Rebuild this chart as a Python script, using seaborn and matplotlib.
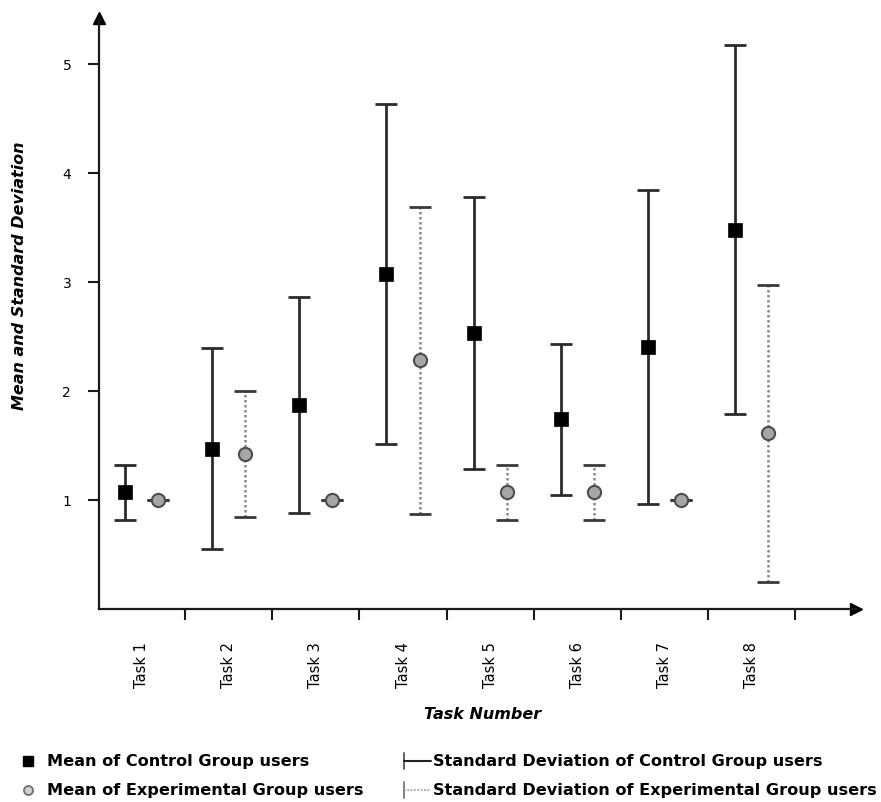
import numpy as np
import pandas as pd
import matplotlib
matplotlib.use("Agg")
import matplotlib.pyplot as plt
from matplotlib.lines import Line2D
import seaborn as sns

# ---- data -------------------------------------------------------------
tasks = ["Task 1", "Task 2", "Task 3", "Task 4", "Task 5", "Task 6", "Task 7", "Task 8"]
control_mean = [1.07, 1.47, 1.87, 3.07, 2.53, 1.74, 2.40, 3.48]
control_sd = [0.25, 0.92, 0.99, 1.56, 1.25, 0.69, 1.44, 1.69]
experimental_mean = [1.00, 1.42, 1.00, 2.28, 1.07, 1.07, 1.00, 1.61]
experimental_sd = [0.00, 0.58, 0.00, 1.41, 0.25, 0.25, 0.00, 1.36]
y_ticks = [1, 2, 3, 4, 5]

legend_labels = [
    "Mean of Control Group users",
    "Mean of Experimental Group users",
    "Standard Deviation of Control Group users",
    "Standard Deviation of Experimental Group users",
]

# ---- layout -----------------------------------------------------------
W, H = 881, 803
sns.set_style("white")
plt.rcParams["font.family"] = ["DejaVu Sans"]
plt.rcParams["text.color"] = "black"
plt.rcParams["axes.labelcolor"] = "black"
plt.rcParams["xtick.color"] = "black"
plt.rcParams["ytick.color"] = "black"

fig = plt.figure(figsize=(W / 100, H / 100), dpi=100)
ax = fig.add_axes([99 / W, 1 - 610 / H, (856 - 99) / W, (610 - 19) / H])

pos = np.arange(len(tasks))
offset = 0.19
df = pd.DataFrame({
    "x": np.concatenate([pos - offset, pos + offset]),
    "mean": control_mean + experimental_mean,
    "sd": control_sd + experimental_sd,
    "group": ["Control"] * len(tasks) + ["Experimental"] * len(tasks),
})
ctrl = df[df.group == "Control"]
expt = df[df.group == "Experimental"]

# standard deviation bars
eb_c = ax.errorbar(ctrl["x"], ctrl["mean"], yerr=ctrl["sd"], fmt="none",
                   ecolor="#2b2b2b", elinewidth=2.0, capsize=8, capthick=2.0,
                   zorder=2)
eb_e = ax.errorbar(expt["x"], expt["mean"], yerr=expt["sd"], fmt="none",
                   ecolor="#3a3a3a", elinewidth=1.8, capsize=8, capthick=2.0,
                   zorder=2)
eb_e[2][0].set_linestyle((0, (1, 1)))
eb_e[2][0].set_color("#8a8a8a")

# means
sns.scatterplot(data=ctrl, x="x", y="mean", marker="s", s=90, color="black",
                edgecolor="black", linewidth=0.5, ax=ax, zorder=3, legend=False)
sns.scatterplot(data=expt, x="x", y="mean", marker="o", s=90, color="#a6a6a6",
                edgecolor="#4d4d4d", linewidth=1.5, ax=ax, zorder=3, legend=False)

# ---- axes -------------------------------------------------------------
ax.set_xlim(-0.49, 8.2)
ax.set_ylim(0, 5.42)
for side in ("top", "right"):
    ax.spines[side].set_visible(False)
for side in ("left", "bottom"):
    ax.spines[side].set_color("#1a1a1a")
    ax.spines[side].set_linewidth(1.6)

# arrow heads at the axis ends
ax.plot(1, 0, ">", color="black", markersize=9, transform=ax.get_yaxis_transform(), clip_on=False)
ax.plot(-0.49, 1, "^", color="black", markersize=9, transform=ax.get_xaxis_transform(), clip_on=False)

ax.set_yticks(y_ticks)
ax.set_yticklabels([str(v) for v in y_ticks], fontsize=10)
ax.tick_params(axis="y", direction="out", length=8, width=1.5, color="#1a1a1a",
               pad=12, left=True)

ax.set_xticks(pos)
ax.set_xticklabels(tasks, rotation=90, fontsize=10.5, va="top")
ax.set_xticks(pos + 0.5, minor=True)
ax.tick_params(axis="x", which="major", length=0, pad=23)
ax.tick_params(axis="x", which="minor", direction="out", length=8, width=1.5,
               color="#1a1a1a", bottom=True)

ax.set_xlabel("")
ax.set_ylabel("")
fig.text(483 / W, 1 - 715 / H, "Task Number", fontsize=11.5, fontweight="bold",
         fontstyle="italic", ha="center", va="center")
fig.text(19.5 / W, 1 - 276 / H, "Mean and Standard Deviation", fontsize=11.5,
         fontweight="bold", fontstyle="italic", rotation=90, ha="center", va="center")

# ---- legend below the plot -------------------------------------------
def fx(px):
    return px / W

def fy(py):
    return 1 - py / H

r1, r2 = 762, 791
fig.add_artist(Line2D([fx(28)], [fy(r1)], marker="s", markersize=7.5, color="black",
                      transform=fig.transFigure))
fig.add_artist(Line2D([fx(28)], [fy(r2)], marker="o", markersize=6.5, color="#d0d0d0",
                      markeredgecolor="#707070", markeredgewidth=1.3,
                      transform=fig.transFigure))
fig.add_artist(Line2D([fx(404), fx(404)], [fy(r1 - 8), fy(r1 + 8)], color="#555555",
                      lw=1.3, transform=fig.transFigure))
fig.add_artist(Line2D([fx(404), fx(431)], [fy(r1), fy(r1)], color="#222222",
                      lw=1.5, transform=fig.transFigure))
fig.add_artist(Line2D([fx(404), fx(404)], [fy(r2 - 8), fy(r2 + 8)], color="#777777",
                      lw=1.3, transform=fig.transFigure))
fig.add_artist(Line2D([fx(404), fx(431)], [fy(r2), fy(r2)], color="#999999",
                      lw=1.2, linestyle=(0, (1, 1)), transform=fig.transFigure))

leg_kw = dict(fontsize=11.6, fontweight="bold", va="center", ha="left")
fig.text(fx(47), fy(r1), legend_labels[0], **leg_kw)
fig.text(fx(47), fy(r2), legend_labels[1], **leg_kw)
fig.text(fx(433), fy(r1), legend_labels[2], **leg_kw)
fig.text(fx(433), fy(r2), legend_labels[3], **leg_kw)

fig.savefig("out.png", dpi=100)
